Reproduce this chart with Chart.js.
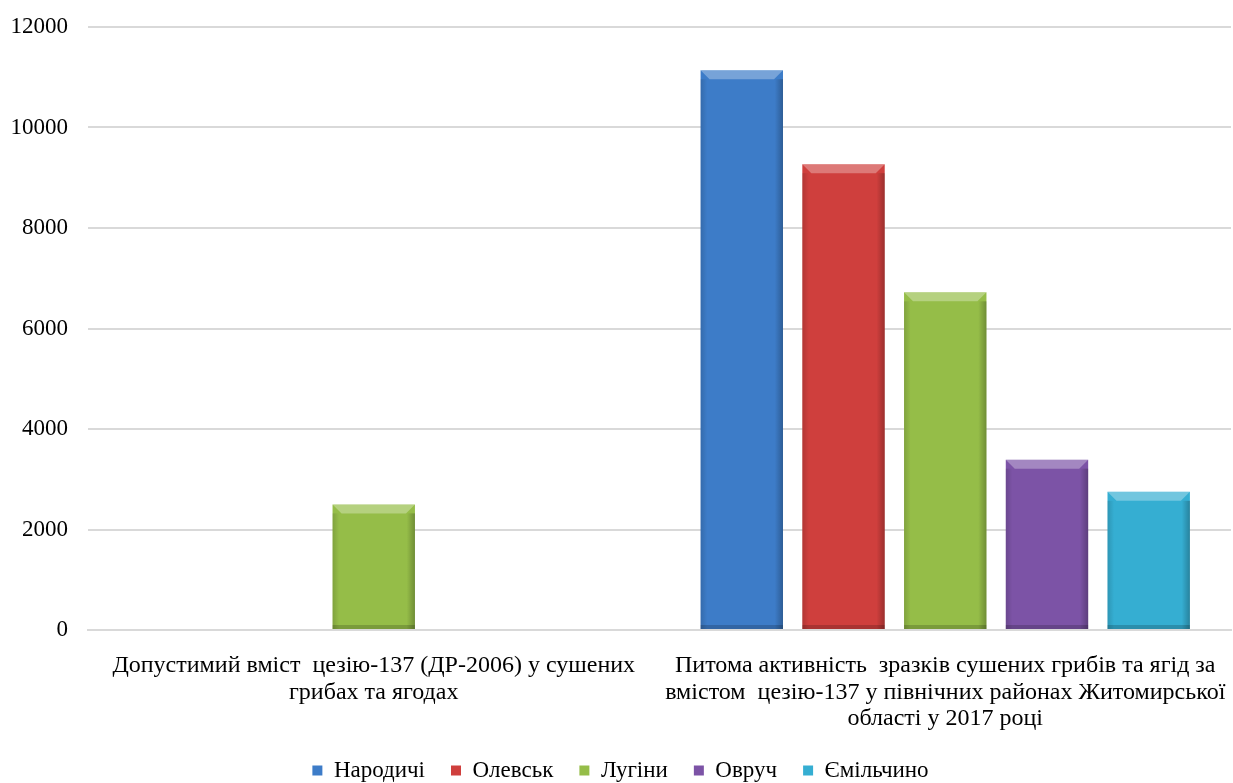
<!DOCTYPE html>
<html lang="uk">
<head>
    <meta charset="UTF-8">
    <title>Цезій-137 у сушених грибах та ягодах</title>
    <script src="https://cdn.jsdelivr.net/npm/chart.js"></script>
    <style>
        html, body {
            margin: 0;
            background: white;
            overflow: hidden;
        }
        /* a bit taller than the window so the legend sits low like the original */
        .chart-box {
            width: 1233px;
            height: 792px;
        }
    </style>
</head>
<body>
    <div class="chart-box">
        <canvas id="mainChart"></canvas>
    </div>

    <script>
        const categories = [
            ['Допустимий вміст  цезію-137 (ДР-2006) у сушених', 'грибах та ягодах'],
            ['Питома активність  зразків сушених грибів та ягід за', 'вмістом  цезію-137 у північних районах Житомирської', 'області у 2017 році']
        ];
        const seriesNames = ['Народичі', 'Олевськ', 'Лугіни', 'Овруч', 'Ємільчино'];
        const narodychi = [null, 11140];
        const olevsk = [null, 9270];
        const luhyny = [2500, 6720];
        const ovruch = [null, 3390];
        const yemilchyno = [null, 2750];
        const yTicks = [0, 2000, 4000, 6000, 8000, 10000, 12000];

        const seriesValues = [narodychi, olevsk, luhyny, ovruch, yemilchyno];
        const colors = ['#3d7cc8', '#cf3f3d', '#95bd48', '#7c53a6', '#35aed2'];

        // Bevel effect on top of each bar, like the office chart style
        const bevelPlugin = {
            id: 'bevel',
            afterDatasetsDraw(chart) {
                const ctx = chart.ctx;
                chart.data.datasets.forEach((ds, i) => {
                    const meta = chart.getDatasetMeta(i);
                    meta.data.forEach((bar, j) => {
                        if (ds.data[j] == null) return;
                        const left = bar.x - bar.width / 2;
                        const right = bar.x + bar.width / 2;
                        const top = bar.y;
                        const bottom = bar.base;
                        const b = 9;
                        ctx.save();
                        // top bevel
                        ctx.fillStyle = 'rgba(255,255,255,0.30)';
                        ctx.beginPath();
                        ctx.moveTo(left, top);
                        ctx.lineTo(right, top);
                        ctx.lineTo(right - b, top + b);
                        ctx.lineTo(left + b, top + b);
                        ctx.closePath();
                        ctx.fill();
                        // side shading
                        const g = ctx.createLinearGradient(left, 0, right, 0);
                        g.addColorStop(0, 'rgba(0,0,0,0.14)');
                        g.addColorStop(0.08, 'rgba(0,0,0,0)');
                        g.addColorStop(0.9, 'rgba(0,0,0,0)');
                        g.addColorStop(1, 'rgba(0,0,0,0.25)');
                        ctx.fillStyle = g;
                        ctx.fillRect(left, top + b, right - left, bottom - top - b);
                        // bottom edge
                        ctx.fillStyle = 'rgba(0,0,0,0.18)';
                        ctx.fillRect(left, bottom - 4, right - left, 4);
                        ctx.restore();
                    });
                });
            }
        };

        const chart = new Chart(document.getElementById('mainChart'), {
            type: 'bar',
            data: {
                labels: categories,
                datasets: seriesNames.map((name, i) => ({
                    label: name,
                    data: seriesValues[i],
                    backgroundColor: colors[i],
                    borderWidth: 0,
                    categoryPercentage: 0.89,
                    barPercentage: 0.81
                }))
            },
            options: {
                responsive: true,
                maintainAspectRatio: false,
                animation: false,
                layout: {
                    padding: { top: 27, left: 10, right: 2, bottom: 0 }
                },
                plugins: {
                    legend: {
                        position: 'bottom',
                        labels: {
                            color: '#000',
                            boxWidth: 10,
                            boxHeight: 10,
                            padding: 26,
                            font: { family: 'Liberation Serif', size: 23 }
                        }
                    },
                    tooltip: { enabled: false }
                },
                scales: {
                    x: {
                        grid: { display: false, drawTicks: false },
                        border: { color: '#d9d9d9', width: 2 },
                        // fixed room for the wrapped category labels
                        afterFit: axis => {
                            axis.height = 103;
                            axis.paddingLeft = 0;
                            axis.paddingRight = 0;
                        },
                        ticks: {
                            color: '#000',
                            maxRotation: 0,
                            autoSkip: false,
                            padding: 23,
                            font: { family: 'Liberation Serif', size: 24, lineHeight: 1.1 }
                        }
                    },
                    y: {
                        min: 0,
                        max: 12000,
                        afterBuildTicks: axis => {
                            axis.ticks = yTicks.map(v => ({ value: v }));
                        },
                        afterFit: axis => {
                            axis.width = 78;
                            axis.paddingTop = 0;
                        },
                        grid: { color: '#d9d9d9', lineWidth: 2, drawTicks: false },
                        border: { display: false },
                        ticks: {
                            color: '#000',
                            padding: 20,
                            callback: v => String(v),
                            font: { family: 'Liberation Serif', size: 23 }
                        }
                    }
                }
            },
            plugins: [bevelPlugin]
        });
    </script>
</body>
</html>
